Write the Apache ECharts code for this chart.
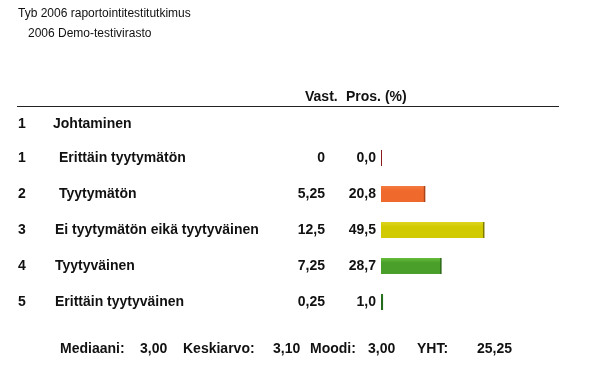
<!DOCTYPE html>
<html>
<head>
<meta charset="utf-8">
<script src="https://cdn.jsdelivr.net/npm/echarts@6/dist/echarts.min.js"></script>
<style>
html,body{margin:0;padding:0;background:#fff;}
#chart{width:592px;height:367px;}
</style>
</head>
<body>
<div id="chart"></div>
<script>
const titleLines = ['Tyb 2006 raportointitestitutkimus', '2006 Demo-testivirasto'];
const headerCount = 'Vast.';
const headerPct = 'Pros. (%)';
const sectionCode = '1';
const sectionName = 'Johtaminen';
const codes = ['1', '2', '3', '4', '5'];
const categories = ['Erittäin tyytymätön', 'Tyytymätön', 'Ei tyytymätön eikä tyytyväinen', 'Tyytyväinen', 'Erittäin tyytyväinen'];
const counts = [0, 5.25, 12.5, 7.25, 0.25];
const percents = [0.0, 20.8, 49.5, 28.7, 1.0];
const statLabels = ['Mediaani:', 'Keskiarvo:', 'Moodi:', 'YHT:'];
const statValues = ['3,00', '3,10', '3,00', '25,25'];

const FONT = '"Liberation Sans", Arial, sans-serif';
const barStyles = [
  { top: '#8B1A1A', mid: '#8B1A1A', edge: '#8B1A1A' },
  { top: '#F57A40', mid: '#F0692C', edge: '#A9441A' },
  { top: '#DDD520', mid: '#D2CA00', edge: '#7F7A00' },
  { top: '#66BE3C', mid: '#4A9E2A', edge: '#2C6A18' },
  { top: '#2E7A22', mid: '#236B1C', edge: '#174F12' }
];

function fi(v, d) {
  const s = d === undefined ? String(v) : v.toFixed(d);
  return s.replace('.', ',');
}

const chart = echarts.init(document.getElementById('chart'), null, { renderer: 'canvas' });

const barData = percents.map((v, i) => ({
  value: v,
  itemStyle: {
    color: new echarts.graphic.LinearGradient(0, 0, 0, 1, [
      { offset: 0, color: barStyles[i].top },
      { offset: 0.3, color: barStyles[i].mid },
      { offset: 1, color: barStyles[i].mid }
    ]),
    shadowColor: barStyles[i].edge,
    shadowOffsetX: v > 2 ? 1.5 : 0,
    shadowOffsetY: 0,
    shadowBlur: 0
  }
}));

const statX = [[60, 140], [183, 273], [310, 368], [417, 477]];
const footer = [];
statLabels.forEach((l, i) => {
  footer.push({ type: 'text', left: statX[i][0], top: 342, style: { text: l, font: 'bold 14px ' + FONT, fill: '#111' } });
  footer.push({ type: 'text', left: statX[i][1], top: 342, style: { text: statValues[i], font: 'bold 14px ' + FONT, fill: '#111' } });
});

const option = {
  animation: false,
  backgroundColor: '#fff',
  grid: { left: 381, right: 5, top: 140, bottom: 47, containLabel: false },
  xAxis: { type: 'value', min: 0, max: 100, show: false },
  yAxis: {
    type: 'category',
    inverse: true,
    data: categories,
    axisLine: { show: false },
    axisTick: { show: false },
    splitLine: { show: false },
    axisLabel: {
      margin: 5,
      formatter: function (val, idx) {
        const indent = idx < 2;
        return '{' + (indent ? 'n2' : 'n') + '|' + codes[idx] + '}' +
          '{' + (indent ? 'name2' : 'name') + '|' + val + '}' +
          '{v|' + fi(counts[idx]) + '}' +
          '{p|' + fi(percents[idx], 1) + '}';
      },
      rich: {
        n: { width: 37, align: 'left', fontFamily: FONT, fontWeight: 'bold', fontSize: 14, color: '#111' },
        n2: { width: 41, align: 'left', fontFamily: FONT, fontWeight: 'bold', fontSize: 14, color: '#111' },
        name: { width: 220, align: 'left', fontFamily: FONT, fontWeight: 'bold', fontSize: 14, color: '#111' },
        name2: { width: 216, align: 'left', fontFamily: FONT, fontWeight: 'bold', fontSize: 14, color: '#111' },
        v: { width: 50, align: 'right', fontFamily: FONT, fontWeight: 'bold', fontSize: 14, color: '#111' },
        p: { width: 51, align: 'right', fontFamily: FONT, fontWeight: 'bold', fontSize: 14, color: '#111' }
      }
    }
  },
  series: [{
    type: 'bar',
    data: barData,
    barWidth: 16,
    barMinHeight: 1,
    silent: true
  }],
  graphic: [
    { type: 'text', left: 18, top: 8, style: { text: titleLines[0], font: '12px ' + FONT, fill: '#111' } },
    { type: 'text', left: 28, top: 28, style: { text: titleLines[1], font: '12px ' + FONT, fill: '#111' } },
    { type: 'text', left: 305, top: 90, style: { text: headerCount, font: 'bold 14px ' + FONT, fill: '#111' } },
    { type: 'text', left: 346, top: 90, style: { text: headerPct, font: 'bold 14px ' + FONT, fill: '#111' } },
    { type: 'line', shape: { x1: 17, y1: 106.5, x2: 559, y2: 106.5 }, style: { stroke: '#222', lineWidth: 1.2 } },
    { type: 'text', left: 18, top: 117, style: { text: sectionCode, font: 'bold 14px ' + FONT, fill: '#111' } },
    { type: 'text', left: 53, top: 117, style: { text: sectionName, font: 'bold 14px ' + FONT, fill: '#111' } }
  ].concat(footer)
};
chart.setOption(option);
</script>
</body>
</html>
